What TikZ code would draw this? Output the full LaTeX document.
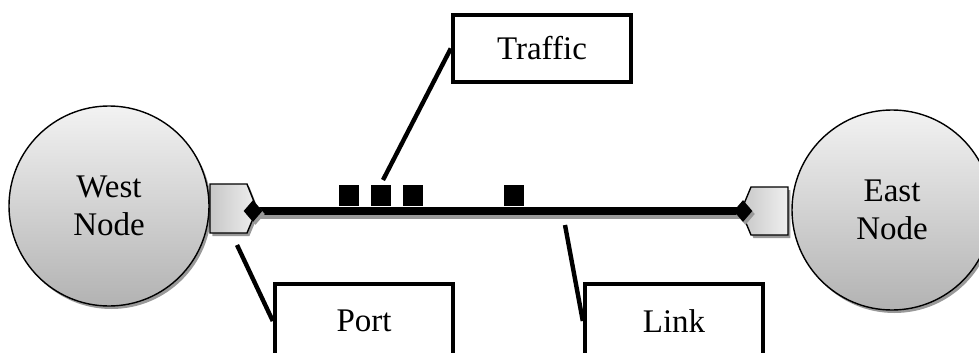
\documentclass[tikz,border=0pt]{standalone}
\usepackage{fontspec}
\setmainfont{Liberation Serif}
\usetikzlibrary{shapes.geometric,shadows}

\tikzset{
  castshadow/.style={drop shadow={shadow xshift=1.2pt,shadow yshift=-1.5pt,fill=black!40,opacity=1}},
  station/.style={circle,draw,line width=0.7pt,minimum size=100pt,inner sep=0pt,
    top color=black!5,bottom color=black!30,castshadow,align=center,
    font=\fontsize{16.5}{19}\selectfont},
  portshape/.style={draw,line width=0.7pt,left color=black!22,right color=black!6,castshadow},
  joint/.style={diamond,fill=black,minimum width=9.5pt,minimum height=11pt,inner sep=0pt,castshadow},
  packet/.style={fill=black,minimum width=10pt,minimum height=10.5pt,inner sep=0pt},
  callout/.style={draw,line width=2.2pt,fill=white,minimum width=89pt,inner sep=0pt,
    font=\fontsize{16.5}{19}\selectfont},
  pointer/.style={line width=2.2pt}
}

\begin{document}
\begin{tikzpicture}[x=0.5pt,y=-0.5pt]
\useasboundingbox (0,0) rectangle (979,353);

%\tikzstyle{every node}+=[draw]

\node[station] (west) at (109,206) {West\\Node};
\node[station] (east) at (892,210) {East\\Node};

% ports
\path[portshape] (210,184) -- (247,184) -- (257,209) -- (247,233) -- (210,233) -- cycle;
\path[portshape] (788,187) -- (751,187) -- (741,211) -- (751,235) -- (788,235) -- cycle;

% link between the ports
\coordinate (wend) at (253,211);
\coordinate (eend) at (743,211);
\draw[line width=4pt,black!40] ([xshift=1pt,yshift=-1.8pt]wend) -- ([xshift=1pt,yshift=-1.8pt]eend);
\draw[line width=4pt] (wend) -- (eend);
\node[joint] (wjoint) at (wend) {};
\node[joint] (ejoint) at (eend) {};

\foreach \x [count=\i] in {349,381,413,514}
  \node[packet] (pk\i) at (\x,195.5) {};

\node[callout,minimum height=33.5pt] (traffic) at (542,48.5) {Traffic};
\node[callout,minimum height=37pt] (port) at (364,321) {Port};
\node[callout,minimum height=37pt] (link) at (674,321) {Link};

\coordinate (traftip) at (383,180);
\coordinate (porttip) at (237,245);
\coordinate (linktip) at (565,225);
\draw[pointer] (traftip) -- (traffic.west);
\draw[pointer] (porttip) -- (port.west);
\draw[pointer] (linktip) -- (link.west);

\end{tikzpicture}
\end{document}
